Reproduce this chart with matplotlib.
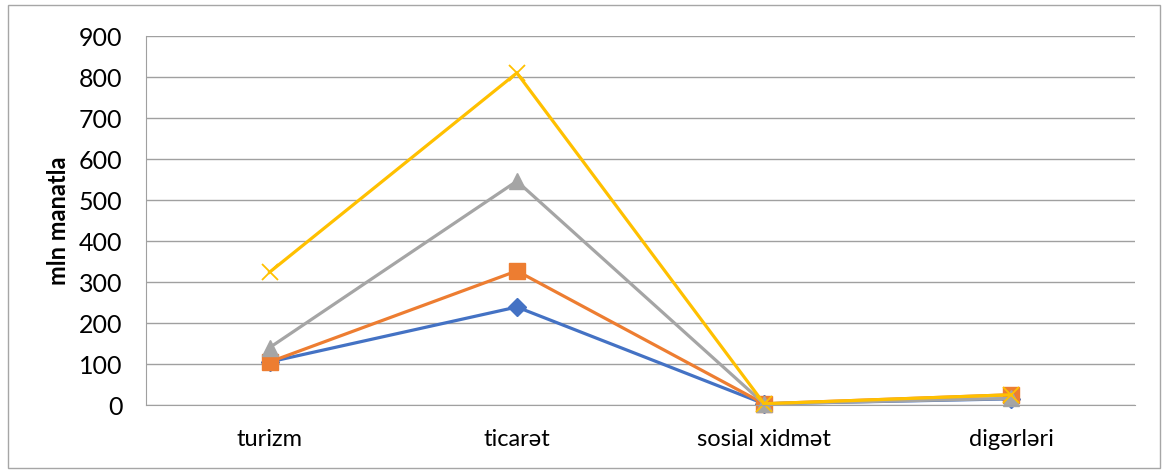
import matplotlib.pyplot as plt
from matplotlib.patches import Rectangle

categories = ["turizm", "ticarət", "sosial xidmət", "digərləri"]

series_blue = [105, 239, 3, 15]
series_orange = [105, 327, 3, 25]
series_gray = [140, 546, 3, 16]
series_yellow = [324, 810, 3, 25]

y_ticks = [0, 100, 200, 300, 400, 500, 600, 700, 800, 900]

plt.rcParams["font.family"] = ["Lato", "DejaVu Sans"]

fig = plt.figure(figsize=(11.65, 4.73), dpi=100)
fig.patches.append(
    Rectangle(
        (8 / 1165, 5 / 473),
        1152 / 1165,
        463 / 473,
        transform=fig.transFigure,
        fill=False,
        edgecolor="#a6a6a6",
        linewidth=1.0,
    )
)

ax = fig.add_axes([146 / 1165, 68 / 473, 989 / 1165, 369 / 473])

x = range(len(categories))
styles = [
    (series_blue, "#4472C4", "D", 9, 1.0),
    (series_orange, "#ED7D31", "s", 11, 1.0),
    (series_gray, "#A5A5A5", "^", 12, 1.0),
    (series_yellow, "#FFC000", "x", 12, 1.3),
]
for values, color, marker, msize, mew in styles:
    ax.plot(
        x,
        values,
        color=color,
        linewidth=2.3,
        marker=marker,
        markersize=msize,
        markeredgewidth=mew,
        markeredgecolor=color,
        markerfacecolor=color,
        clip_on=False,
        solid_joinstyle="miter",
    )

ax.set_xlim(-0.5, len(categories) - 0.5)
ax.set_ylim(0, 900)
ax.set_yticks(y_ticks)
ax.set_yticklabels([str(v) for v in y_ticks], fontsize=18)
ax.set_xticks(list(x))
ax.set_xticklabels(categories, fontsize=17)
ax.tick_params(axis="x", length=0, pad=17)
ax.tick_params(axis="y", length=0, pad=17)

ax.grid(axis="y", color="#a0a0a0", linewidth=1.0)
ax.set_axisbelow(True)
for side in ["top", "right"]:
    ax.spines[side].set_visible(False)
ax.spines["left"].set_color("#a0a0a0")
ax.spines["bottom"].set_color("#a0a0a0")

ax.set_ylabel("mln manatla", fontsize=17, fontweight="bold", labelpad=6)

fig.savefig("out.png", dpi=100)
